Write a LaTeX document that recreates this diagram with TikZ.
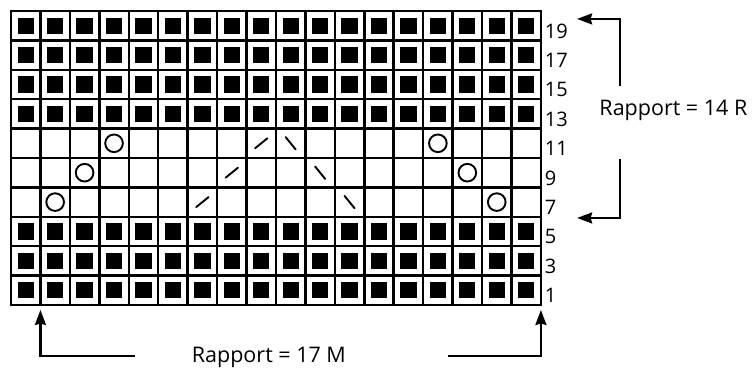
\documentclass[tikz,border=0pt]{standalone}
\usepackage{fontspec}
\setmainfont{Open Sans}
\usetikzlibrary{arrows.meta, positioning}

\begin{document}
\begin{tikzpicture}[
    x=29.44pt, y=29.4pt,
    rowno/.style={anchor=base west, inner sep=0pt, font=\fontsize{20}{20}\selectfont},
    rapport/.style={anchor=base, inner sep=0pt, font=\fontsize{21.5}{21.5}\selectfont},
    knit/.style={fill=black},
    yo/.style={draw, line width=1.9pt},
    dec/.style={line width=1.9pt, line cap=round},
    arrow/.style={-{Stealth[length=15pt, width=11pt, inset=1.5pt]}, line width=2.2pt}
]
\useasboundingbox (-0.3736,-2.1429) rectangle (25.17,10.374);

% knit rows 1-5 and 13-19
\foreach \r in {0,1,2,6,7,8,9}
  \foreach \c in {0,...,17}
    \fill[knit] (\c+0.223,\r+0.223) rectangle (\c+0.777,\r+0.777);

% lace rows 7, 9, 11
\foreach \k in {0,1,2} {
  \draw[yo] (1.5+\k,3.5+\k) circle (0.3);
  \draw[yo] (16.5-\k,3.5+\k) circle (0.3);
  \draw[dec] (6.5+\k-0.21,3.5+\k-0.17) -- (6.5+\k+0.21,3.5+\k+0.17);
  \draw[dec] (11.5-\k-0.17,3.5+\k+0.21) -- (11.5-\k+0.17,3.5+\k-0.21);
}

\draw[line width=2.5pt] (0,0) grid[step=1] (18,10);
\draw[line width=2.5pt] (0,0) rectangle (18,10);

% row numbers
\foreach \i [evaluate=\i as \lbl using int(2*\i+1)] in {0,...,9}
  \node[rowno] (row\lbl) at (18.13,\i+0.08) {\lbl};

% repeat in height
\node[rapport] (rep14) at (22.5,6.46) {Rapport = 14 R};
\coordinate (hi) at (20.69,7.45);
\coordinate (hitip) at (19.23,9.73);
\coordinate (lo) at (20.69,4.97);
\coordinate (lotip) at (19.23,2.96);
\draw[arrow] (hi) |- (hitip);
\draw[arrow] (lo) |- (lotip);

% repeat in width
\node[rapport] (rep17) at (8.76,-1.96) {Rapport = 17 M};
\coordinate (le) at (4.21,-1.73);
\coordinate (letip) at (1,-0.17);
\coordinate (ri) at (14.84,-1.73);
\coordinate (ritip) at (18,-0.17);
\draw[arrow] (le) -| (letip);
\draw[arrow] (ri) -| (ritip);
\end{tikzpicture}
\end{document}
